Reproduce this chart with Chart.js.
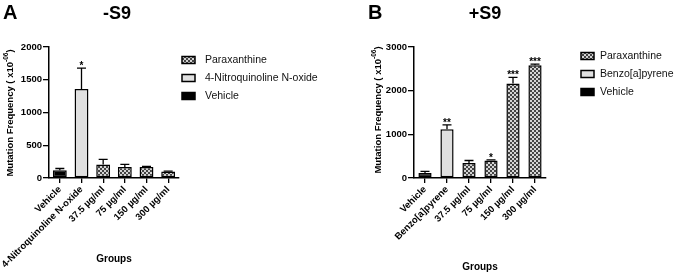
<!DOCTYPE html>
<html>
<head>
<meta charset="utf-8">
<script src="https://cdn.jsdelivr.net/npm/chart.js@4/dist/chart.umd.min.js"></script>
<style>
  body { margin: 0; background: #fff; width: 678px; height: 275px; position: relative; overflow: hidden; }
  .panel { position: absolute; top: 0; height: 275px; }
</style>
</head>
<body>
<div class="panel" style="left:0;width:340px"><canvas id="chartA" width="340" height="275"></canvas></div>
<div class="panel" style="left:340px;width:338px"><canvas id="chartB" width="338" height="275"></canvas></div>
<script>
// Panel A (-S9)
const groupsA = ['Vehicle', '4-Nitroquinoline N-oxide', '37.5 µg/ml', '75 µg/ml', '150 µg/ml', '300 µg/ml'];
const meansA = [120, 1358, 205, 168, 168, 98];
const semA = [25, 318, 80, 40, 11, 8];
const starsA = ['', '*', '', '', '', ''];
const ticksA = [0, 500, 1000, 1500, 2000];

// Panel B (+S9)
const groupsB = ['Vehicle', 'Benzo[a]pyrene', '37.5 µg/ml', '75 µg/ml', '150 µg/ml', '300 µg/ml'];
const meansB = [114, 1117, 342, 401, 2166, 2583];
const semB = [36, 98, 59, 16, 137, 23];
const starsB = ['', '**', '', '*', '***', '***'];
const ticksB = [0, 1000, 2000, 3000];

const legendA = ['Paraxanthine', '4-Nitroquinoline N-oxide', 'Vehicle'];
const legendB = ['Paraxanthine', 'Benzo[a]pyrene', 'Vehicle'];

const FONT = '"Liberation Sans", Arial, sans-serif';

function checker() {
  const c = document.createElement('canvas');
  c.width = 4; c.height = 4;
  const g = c.getContext('2d');
  g.fillStyle = '#d4d4d4';
  g.fillRect(0, 0, 4, 4);
  g.fillStyle = '#444';
  g.fillRect(0, 0, 2, 2);
  g.fillRect(2, 2, 2, 2);
  return g.createPattern(c, 'repeat');
}
const checkFill = checker();
const controlFill = '#e0e0e0';

// vehicle black, positive control light grey, paraxanthine doses checkered
function barColours(n) {
  const out = [];
  for (let i = 0; i < n; i++) {
    out.push(i === 0 ? '#000' : i === 1 ? controlFill : checkFill);
  }
  return out;
}

function makeDecor(cfg) {
  return {
    id: 'decor_' + cfg.id,
    afterDatasetsDraw(chart) {
      const ctx = chart.ctx;
      const y = chart.scales.y;
      const meta = chart.getDatasetMeta(0);
      ctx.save();
      ctx.strokeStyle = '#000';
      ctx.lineWidth = 1.3;
      ctx.fillStyle = '#000';
      cfg.means.forEach((m, i) => {
        const cx = meta.data[i].x;
        const base = y.getPixelForValue(m);
        const top = y.getPixelForValue(m + cfg.sem[i]);
        ctx.beginPath();
        ctx.moveTo(cx, base);
        ctx.lineTo(cx, top);
        ctx.moveTo(cx - 4.5, top);
        ctx.lineTo(cx + 4.5, top);
        ctx.stroke();
        if (cfg.stars[i]) {
          ctx.font = 'bold 10px ' + FONT;
          ctx.textAlign = 'center';
          ctx.textBaseline = 'alphabetic';
          ctx.fillText(cfg.stars[i], cx, top + 1);
        }
      });
      ctx.restore();
    },
    afterDraw(chart) {
      const ctx = chart.ctx;
      ctx.save();
      ctx.fillStyle = '#000';
      ctx.textBaseline = 'alphabetic';
      // panel letter and title
      ctx.font = 'bold 20px ' + FONT;
      ctx.textAlign = 'left';
      ctx.fillText(cfg.letter, cfg.letterX, 18.5);
      ctx.font = 'bold 18px ' + FONT;
      ctx.textAlign = 'center';
      ctx.fillText(cfg.title, cfg.titleX, 18.5);

      // y axis title with superscript
      ctx.save();
      ctx.translate(cfg.yTitleX, cfg.yTitleY);
      ctx.rotate(-Math.PI / 2);
      ctx.textBaseline = 'middle';
      ctx.textAlign = 'left';
      const main = 'Mutation Frequency ( x10';
      const sup = '-06';
      const tail = ')';
      ctx.font = 'bold 9.5px ' + FONT;
      const wMain = ctx.measureText(main).width;
      const wTail = ctx.measureText(tail).width;
      ctx.font = 'bold 6.5px ' + FONT;
      const wSup = ctx.measureText(sup).width;
      let sx = -(wMain + wSup + wTail) / 2;
      ctx.font = 'bold 9.5px ' + FONT;
      ctx.fillText(main, sx, 0);
      sx += wMain;
      ctx.font = 'bold 6.5px ' + FONT;
      ctx.fillText(sup, sx, -4);
      sx += wSup;
      ctx.font = 'bold 9.5px ' + FONT;
      ctx.fillText(tail, sx, 0);
      ctx.restore();

      // legend
      const fills = [checkFill, controlFill, '#000'];
      ctx.font = '10.5px ' + FONT;
      ctx.textAlign = 'left';
      ctx.textBaseline = 'middle';
      cfg.legend.forEach((label, i) => {
        const ly = cfg.legendY[i];
        ctx.fillStyle = fills[i];
        ctx.fillRect(cfg.boxX, ly - 3.5, 13, 7);
        ctx.strokeStyle = '#000';
        ctx.lineWidth = 1.5;
        ctx.strokeRect(cfg.boxX, ly - 3.5, 13, 7);
        ctx.fillStyle = '#111';
        ctx.fillText(label, cfg.textX, ly + 0.5);
      });
      ctx.restore();
    }
  };
}

function buildChart(canvasId, cfg) {
  const ctx = document.getElementById(canvasId).getContext('2d');
  return new Chart(ctx, {
    type: 'bar',
    data: {
      labels: cfg.groups,
      datasets: [{
        data: cfg.means,
        backgroundColor: barColours(cfg.means.length),
        borderColor: '#000',
        borderWidth: 1.5,
        borderSkipped: false,
        barPercentage: cfg.barPct,
        categoryPercentage: 0.8
      }]
    },
    options: {
      responsive: false,
      animation: false,
      devicePixelRatio: 1,
      layout: { padding: { top: 47, right: cfg.padRight, left: 0, bottom: 0 } },
      plugins: { legend: { display: false }, tooltip: { enabled: false } },
      scales: {
        x: {
          offset: true,
          grid: { display: true, drawOnChartArea: false, drawTicks: true, tickLength: 5, color: '#000', lineWidth: 1.3, offset: false },
          border: { display: true, color: '#000', width: 1.5 },
          ticks: {
            color: '#000', autoSkip: false, minRotation: 45, maxRotation: 45, padding: 1,
            font: { family: FONT, size: 9.5, weight: 'bold' }
          },
          title: {
            display: true, text: 'Groups', color: '#000',
            font: { family: FONT, size: 10, weight: 'bold' },
            padding: { top: 0, bottom: cfg.groupsPad }
          },
          afterFit(scale) { scale.height = 97; }
        },
        y: {
          min: 0,
          max: cfg.ticks[cfg.ticks.length - 1],
          afterBuildTicks(scale) { scale.ticks = cfg.ticks.map(v => ({ value: v })); },
          grid: { display: true, drawOnChartArea: false, drawTicks: true, tickLength: 6, color: '#000', lineWidth: 1.3 },
          border: { display: true, color: '#000', width: 1.5 },
          ticks: {
            color: '#000', padding: 1,
            font: { family: FONT, size: 9.5, weight: 'bold' },
            callback: v => String(v)
          },
          afterFit(scale) { scale.width = cfg.left; }
        }
      }
    },
    plugins: [makeDecor(cfg)]
  });
}

buildChart('chartA', {
  id: 'A', groups: groupsA, means: meansA, sem: semA, stars: starsA, ticks: ticksA,
  legend: legendA, left: 49, padRight: 161, barPct: 0.8, groupsPad: 10,
  letter: 'A', letterX: 3, title: '-S9', titleX: 117,
  yTitleX: 10, yTitleY: 113,
  boxX: 182, textX: 205, legendY: [60, 78, 96]
});

buildChart('chartB', {
  id: 'B', groups: groupsB, means: meansB, sem: semB, stars: starsB, ticks: ticksB,
  legend: legendB, left: 74, padRight: 132, barPct: 0.75, groupsPad: 2,
  letter: 'B', letterX: 28, title: '+S9', titleX: 145,
  yTitleX: 38, yTitleY: 110,
  boxX: 241, textX: 260, legendY: [56, 74, 92]
});
</script>
</body>
</html>
